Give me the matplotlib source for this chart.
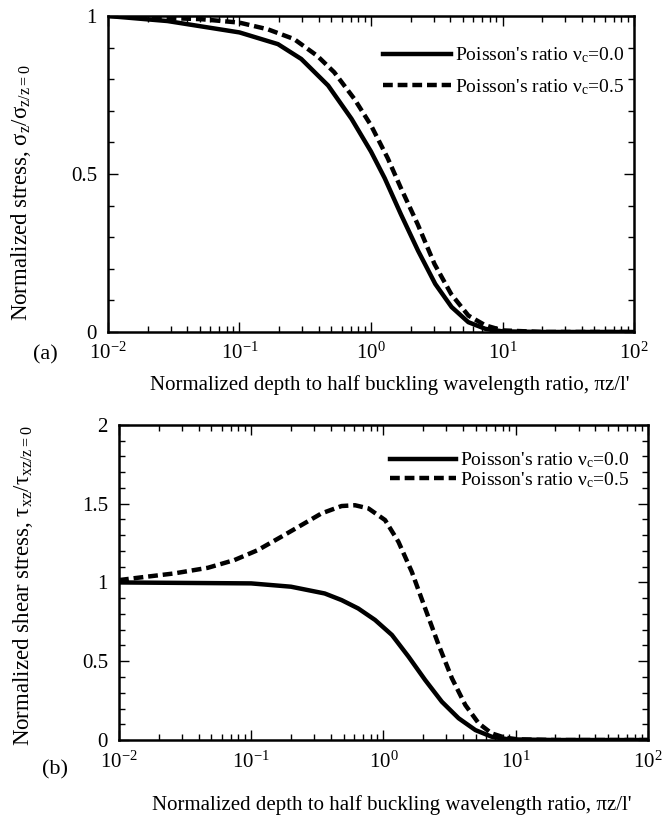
import matplotlib.pyplot as plt
from matplotlib.ticker import MultipleLocator, LogLocator, NullFormatter

plt.rcParams['font.family'] = 'Liberation Serif'
plt.rcParams['mathtext.fontset'] = 'custom'
plt.rcParams['mathtext.rm'] = 'Liberation Serif'
plt.rcParams['mathtext.it'] = 'Liberation Serif'
plt.rcParams['mathtext.bf'] = 'Liberation Serif:bold'

# (a) normalized stress sigma_z / sigma_z(z=0)
depth_a0 = [0.01, 0.0284, 0.1, 0.196, 0.295, 0.472, 0.71, 1.0, 1.27, 1.69,
            2.28, 3.08, 4.1, 5.5, 7.4, 10.0, 20.0, 100.0]
sigma_nu00 = [1.0, 0.984, 0.948, 0.911, 0.864, 0.78, 0.675, 0.571, 0.487, 0.372,
              0.257, 0.152, 0.079, 0.031, 0.01, 0.002, 0.0, 0.0]
depth_a5 = [0.01, 0.051, 0.1, 0.164, 0.26, 0.39, 0.525, 0.746, 1.0, 1.34, 1.69,
            2.27, 3.04, 4.07, 5.5, 7.4, 10.0, 20.0, 100.0]
sigma_nu05 = [1.0, 0.99, 0.979, 0.958, 0.927, 0.874, 0.822, 0.738, 0.654, 0.55,
              0.455, 0.34, 0.215, 0.12, 0.052, 0.021, 0.005, 0.0, 0.0]

# (b) normalized shear stress tau_xz / tau_xz(z=0)
depth_b0 = [0.01, 0.1, 0.2, 0.36, 0.483, 0.645, 0.865, 1.16, 1.55, 2.07, 2.77,
            3.71, 4.97, 6.6, 8.9, 20.0, 100.0]
tau_nu00 = [1.0, 0.994, 0.973, 0.93, 0.888, 0.835, 0.762, 0.667, 0.529, 0.381,
            0.243, 0.138, 0.063, 0.021, 0.004, 0.0, 0.0]
depth_b5 = [0.01, 0.0146, 0.026, 0.047, 0.0746, 0.112, 0.169, 0.24, 0.34, 0.483,
            0.61, 0.77, 1.03, 1.3, 1.64, 2.07, 2.62, 3.3, 4.17, 5.26, 6.6, 8.3,
            10.5, 20.0, 100.0]
tau_nu05 = [1.015, 1.032, 1.057, 1.093, 1.142, 1.205, 1.29, 1.364, 1.438, 1.485,
            1.49, 1.47, 1.396, 1.258, 1.068, 0.836, 0.603, 0.392, 0.222, 0.106,
            0.042, 0.015, 0.004, 0.0, 0.0]

labels = ["Poisson's ratio $\\nu_c$=0.0", "Poisson's ratio $\\nu_c$=0.5"]
xticks = [0.01, 0.1, 1, 10, 100]
xticklabels = ['$10^{-2}$', '$10^{-1}$', '$10^{0}$', '$10^{1}$', '$10^{2}$']
xlabel = "Normalized depth to half buckling wavelength ratio, \u03c0z/l'"

fig = plt.figure(figsize=(6.65, 8.25), dpi=100)
ax1 = fig.add_axes([0.1624, 0.5976, 0.791, 0.383])
ax2 = fig.add_axes([0.179, 0.103, 0.795, 0.382])

dash = (2.2, 1.1)
ax1.plot(depth_a0, sigma_nu00, color='black', lw=3.2, label=labels[0])
ax1.plot(depth_a5, sigma_nu05, color='black', lw=3.2, dashes=dash, label=labels[1])
ax2.plot(depth_b0, tau_nu00, color='black', lw=3.2, label=labels[0])
ax2.plot(depth_b5, tau_nu05, color='black', lw=3.2, dashes=dash, label=labels[1])

for ax in (ax1, ax2):
    ax.set_xscale('log')
    ax.set_xlim(0.01, 100)
    ax.set_xticks(xticks)
    ax.set_xticklabels(xticklabels)
    ax.xaxis.set_minor_locator(LogLocator(base=10, subs=range(2, 10)))
    ax.xaxis.set_minor_formatter(NullFormatter())
    ax.yaxis.set_minor_locator(MultipleLocator(0.1))
    ax.tick_params(which='both', direction='in', top=True, right=True,
                   labelsize=15, width=1)
    ax.tick_params(which='major', length=7, pad=8)
    ax.tick_params(which='minor', length=4)
    for s in ax.spines.values():
        s.set_linewidth(1.8)

ax1.set_ylim(0, 1)
ax1.set_yticks([0, 0.5, 1])
ax1.set_yticklabels(['0', '0.5', '1'])
ax2.set_ylim(0, 2)
ax2.set_yticks([0, 0.5, 1, 1.5, 2])
ax2.set_yticklabels(['0', '0.5', '1', '1.5', '2'])

ax1.set_ylabel('Normalized stress, $\\sigma_z/\\sigma_{z/z=0}$', fontsize=16.5)
ax1.yaxis.set_label_coords(-0.1426, 0.44)
ax2.set_ylabel('Normalized shear stress, $\\tau_{xz}/\\tau_{xz/z=0}$', fontsize=16.5)
ax2.yaxis.set_label_coords(-0.159, 0.49)

fig.text(390 / 665, 1 - 385 / 825, xlabel, fontsize=15, ha='center', va='center')
fig.text(392 / 665, 1 - 805 / 825, xlabel, fontsize=15, ha='center', va='center')
fig.text(45 / 665, 1 - 355 / 825, '(a)', fontsize=16, ha='center', va='center')
fig.text(55 / 665, 1 - 770 / 825, '(b)', fontsize=16, ha='center', va='center')

ax1.legend(loc='upper left', bbox_to_anchor=(0.523, 0.906), frameon=False,
           fontsize=14, handlelength=3.5, handletextpad=0.2, labelspacing=0.6,
           borderpad=0, borderaxespad=0)
ax2.legend(loc='upper left', bbox_to_anchor=(0.513, 0.919), frameon=False,
           fontsize=14, handlelength=3.4, handletextpad=0.2, labelspacing=0.0,
           borderpad=0, borderaxespad=0)

fig.savefig('out.png', dpi=100)
